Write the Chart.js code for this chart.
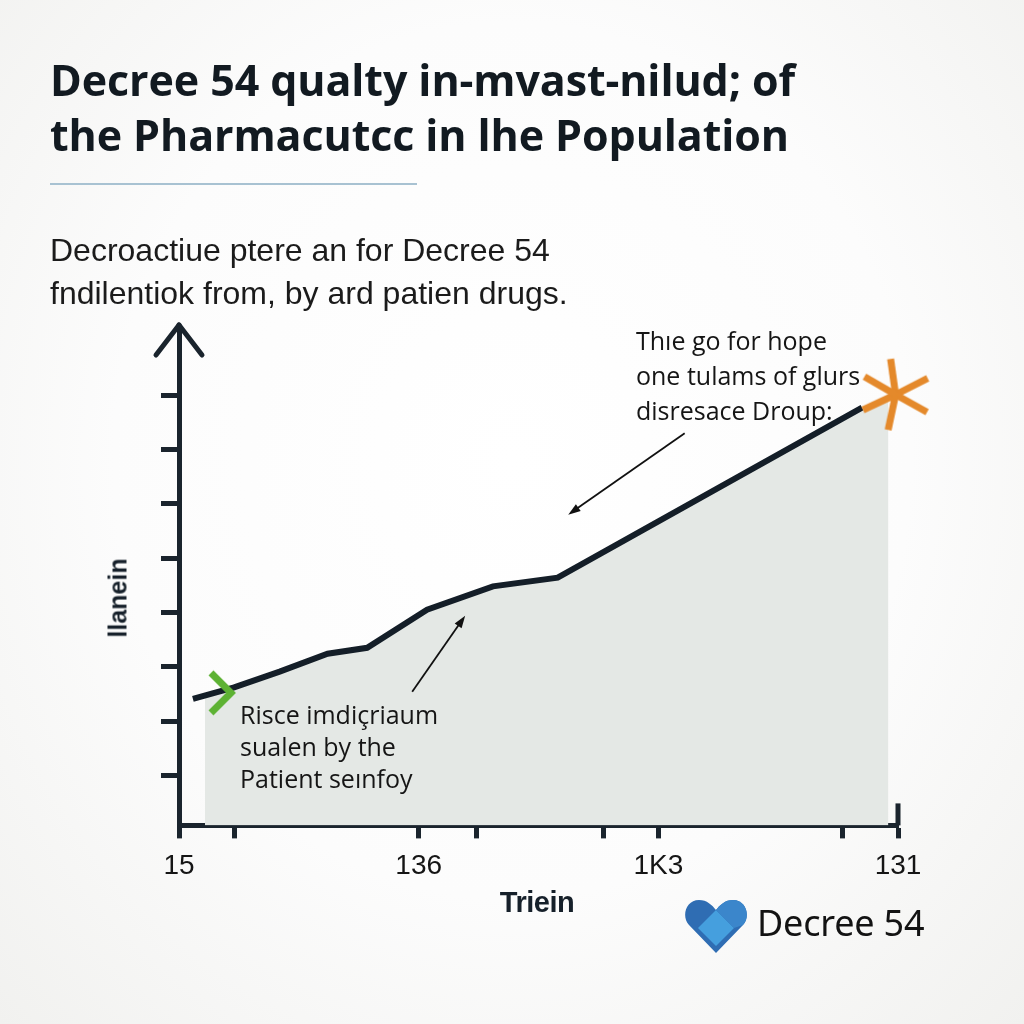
<!DOCTYPE html>
<html>
<head>
<meta charset="utf-8">
<script src="https://cdn.jsdelivr.net/npm/chart.js@4/dist/chart.umd.min.js"></script>
<style>
  html,body{margin:0;padding:0;}
  body{width:1024px;height:1024px;position:relative;overflow:hidden;
    background: radial-gradient(ellipse at 50% 45%, #ffffff 0%, #fcfcfc 55%, #f1f1ef 100%);
    font-family:"Open Sans", sans-serif; color:#131b22;}
  #wrap{position:absolute;left:0;top:0;width:1024px;height:1024px;}
  .abs{position:absolute;white-space:nowrap;}
  #title{left:50px;top:52px;font:700 43px/55px "Open Sans",sans-serif;color:#121a21;letter-spacing:-0.1px;}
  #rule{left:50px;top:183px;width:367px;height:2px;background:#a8c2d2;}
  #sub{left:50px;top:229px;font:400 32px/43px "Liberation Sans",Arial,sans-serif;color:#1b1b1b;}
  #noteTop{left:636px;top:323px;font:400 25px/35px "Open Sans",sans-serif;color:#151515;}
  #noteBot{left:240px;top:698px;font:400 25px/32px "Open Sans",sans-serif;color:#151515;}
  #xtitle{left:537px;top:902px;transform:translate(-50%,-50%);font:700 29px "Liberation Sans",Arial,sans-serif;color:#16202a;letter-spacing:-0.5px;}
  #ytitle{left:118px;top:598px;transform:translate(-50%,-50%) rotate(-90deg);font:700 25px "Liberation Sans",Arial,sans-serif;color:#16202a;}
  #logoText{left:757px;top:922px;transform:translateY(-50%);font:400 36px "Noto Sans",sans-serif;color:#131313;letter-spacing:-0.2px;}
  #heart{left:684px;top:897px;}
</style>
</head>
<body>
<div id="wrap"><canvas id="c" width="1024" height="1024"></canvas></div>
<div class="abs" id="title">Decree 54 qualty in-mvast-nilud; of<br>the Pharmacutcc in lhe Population</div>
<div class="abs" id="rule"></div>
<div class="abs" id="sub">Decroactiue ptere an for Decree 54<br>fndilentiok from, by ard patien drugs.</div>
<div class="abs" id="noteTop">Thıe go for hope<br>one tulams of glurs<br>disresace Droup:</div>
<div class="abs" id="noteBot">Risce imdiçriaum<br>sualen by the<br>Patient seınfoy</div>
<div class="abs" id="xtitle">Triein</div>
<div class="abs" id="ytitle">llanein</div>
<svg class="abs" id="heart" width="64" height="58" viewBox="0 0 64 58">
  <path d="M32 56 L5 28 C-3 19 2 3 15 3 C23 3 28 8 32 13 C36 8 41 3 49 3 C62 3 67 19 59 28 Z" fill="#2f6db3"/>
  <path d="M32 13 L50 31 L32 49 L14 31 Z" fill="#47a2e0" opacity="0.95"/>
  <path d="M32 13 C36 8 41 3 49 3 C62 3 67 19 59 28 L50 31 Z" fill="#3b86cb"/>
</svg>
<div class="abs" id="logoText">Decree 54</div>
<script>
// ---- data ----
const xLabels = ['15', '136', '1K3', '131'];
const xTickValues = [0, 0.23, 1, 1.24, 1.77, 2, 2.77, 3];
const yTickValues = [1, 2, 3, 4, 5, 6, 7, 8];
const lineX = [0.058, 0.23, 0.42, 0.62, 0.785, 1.035, 1.31, 1.58, 2.85];
const lineY = [2.41, 2.62, 2.91, 3.24, 3.35, 4.05, 4.48, 4.64, 7.77];
const fillX = [0.108, 0.23, 0.42, 0.62, 0.785, 1.035, 1.31, 1.58, 2.85, 2.96];
const fillY = [2.49, 2.62, 2.91, 3.24, 3.35, 4.05, 4.48, 4.64, 7.77, 7.95];
const startMarker = [0.175, 2.52];
const endMarker = [2.99, 8.01];
// annotation arrows: [fromX, fromY, toX, toY] in data units
const arrowTop = [2.11, 7.3, 1.624, 5.8];
const arrowBot = [0.973, 2.54, 1.194, 3.94];

const pts = (xs, ys) => xs.map((x, i) => ({x, y: ys[i]}));

function makeChevron(){
  const c = document.createElement('canvas'); c.width = 36; c.height = 50;
  const g = c.getContext('2d');
  g.strokeStyle = '#5db233'; g.lineWidth = 7; g.lineJoin = 'miter'; g.lineCap = 'butt';
  g.beginPath(); g.moveTo(8, 5); g.lineTo(28, 25); g.lineTo(8, 45); g.stroke();
  return c;
}
function makeStar(){
  const c = document.createElement('canvas'); c.width = 84; c.height = 84;
  const g = c.getContext('2d');
  g.strokeStyle = '#e4892b'; g.lineWidth = 7; g.lineCap = 'butt';
  const cx = 42, cy = 42, r = 36;
  [-98, -27, 29, 102, 155, 210].forEach(a => {
    const t = a * Math.PI / 180;
    g.beginPath(); g.moveTo(cx, cy); g.lineTo(cx + r * Math.cos(t), cy + r * Math.sin(t)); g.stroke();
  });
  return c;
}

const ink = '#1a242d';

const decorations = {
  id: 'decorations',
  afterDraw(chart){
    const {ctx, chartArea, scales:{x, y}} = chart;
    ctx.save();
    const ax = chartArea.left;
    ctx.strokeStyle = ink; ctx.lineWidth = 5; ctx.lineCap = 'round'; ctx.lineJoin = 'round';
    ctx.beginPath();
    ctx.moveTo(ax, chartArea.top); ctx.lineTo(ax, chartArea.top - 5);
    ctx.stroke();
    ctx.beginPath();
    ctx.moveTo(ax - 23, chartArea.top + 25); ctx.lineTo(ax, chartArea.top - 5); ctx.lineTo(ax + 23, chartArea.top + 25);
    ctx.stroke();
    const rx = x.getPixelForValue(3);
    ctx.lineCap = 'butt';
    ctx.beginPath(); ctx.moveTo(rx, chartArea.bottom); ctx.lineTo(rx, chartArea.bottom - 22); ctx.stroke();
    const drawArrow = (a) => {
      const x1 = x.getPixelForValue(a[0]), y1 = y.getPixelForValue(a[1]);
      const x2 = x.getPixelForValue(a[2]), y2 = y.getPixelForValue(a[3]);
      const ang = Math.atan2(y2 - y1, x2 - x1);
      ctx.strokeStyle = '#111'; ctx.fillStyle = '#111'; ctx.lineWidth = 1.8;
      ctx.beginPath(); ctx.moveTo(x1, y1); ctx.lineTo(x2 - 8 * Math.cos(ang), y2 - 8 * Math.sin(ang)); ctx.stroke();
      ctx.beginPath();
      ctx.moveTo(x2, y2);
      ctx.lineTo(x2 - 13 * Math.cos(ang - 0.33), y2 - 13 * Math.sin(ang - 0.33));
      ctx.lineTo(x2 - 13 * Math.cos(ang + 0.33), y2 - 13 * Math.sin(ang + 0.33));
      ctx.closePath(); ctx.fill();
    };
    drawArrow(arrowTop);
    drawArrow(arrowBot);
    ctx.restore();
  }
};

new Chart(document.getElementById('c'), {
  type: 'scatter',
  data: {
    datasets: [
      {
        label: 'area', data: pts(fillX, fillY), showLine: true, fill: 'start',
        backgroundColor: '#e4e8e5', borderWidth: 0, pointRadius: 0, tension: 0, order: 3
      },
      {
        label: 'line', data: pts(lineX, lineY), showLine: true, fill: false,
        borderColor: '#141e28', borderWidth: 6, pointRadius: 0, tension: 0,
        borderJoinStyle: 'miter', borderCapStyle: 'butt', order: 2
      },
      {
        label: 'start', data: [{x: startMarker[0], y: startMarker[1]}], pointStyle: makeChevron(),
        pointRadius: 18, order: 1, clip: false
      },
      {
        label: 'end', data: [{x: endMarker[0], y: endMarker[1]}], pointStyle: makeStar(),
        pointRadius: 40, order: 1, clip: false
      }
    ]
  },
  options: {
    responsive: false, animation: false, events: [],
    layout: {padding: {left: 161, right: 126, top: 330, bottom: 130}},
    plugins: {legend: {display: false}, tooltip: {enabled: false}, title: {display: false}},
    scales: {
      x: {
        type: 'linear', min: 0, max: 3,
        afterBuildTicks: s => { s.ticks = xTickValues.map(v => ({value: v})); },
        ticks: {
          autoSkip: false, maxRotation: 0, padding: 11, color: '#151515',
          font: {family: '"Liberation Sans Narrow", "Liberation Sans", Arial, sans-serif', size: 28},
          callback: v => Number.isInteger(v) ? xLabels[v] : ''
        },
        grid: {drawOnChartArea: false, drawTicks: true, tickLength: 13, tickWidth: 5, color: ink, tickColor: ink},
        border: {display: true, color: ink, width: 5}
      },
      y: {
        type: 'linear', min: 0.08, max: 9.2,
        afterBuildTicks: s => { s.ticks = yTickValues.map(v => ({value: v})); },
        ticks: {display: false},
        grid: {drawOnChartArea: false, drawTicks: true, tickLength: 18, tickWidth: 5, color: ink, tickColor: ink},
        border: {display: true, color: ink, width: 5}
      }
    }
  },
  plugins: [decorations]
});
</script>
</body>
</html>
